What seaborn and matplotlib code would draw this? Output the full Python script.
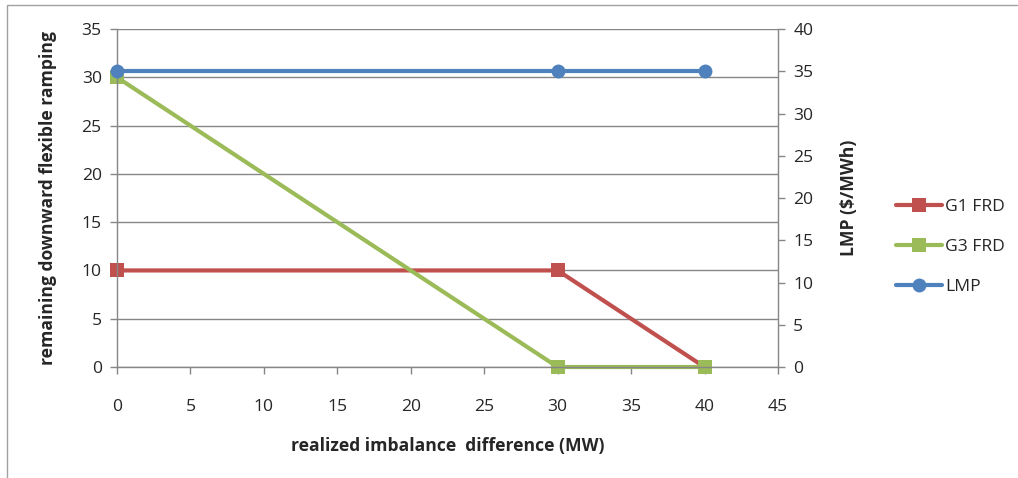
import matplotlib
matplotlib.use("Agg")
import matplotlib.pyplot as plt
import seaborn as sns
import pandas as pd
from matplotlib.patches import Rectangle

# data
imbalance = [0, 30, 40]
g1_frd = [10, 10, 0]
g3_frd = [30, 0, 0]
lmp = [35, 35, 35]

sns.set_style("white")
plt.rcParams['font.family'] = ['Open Sans', 'DejaVu Sans']

red = '#C0504D'
green = '#9BBB59'
blue = '#4F81BD'
grid_c = '#868686'
fs = 12.6

fig = plt.figure(figsize=(10.18, 4.78), dpi=100)
ax = fig.add_axes([0.1149, 0.2322, 0.6493, 0.7071])
ax2 = ax.twinx()

df = pd.DataFrame({'x': imbalance, 'G1 FRD': g1_frd, 'G3 FRD': g3_frd, 'LMP': lmp})

sns.lineplot(data=df, x='x', y='G1 FRD', ax=ax, color=red, lw=3, marker='s',
             markersize=10, markeredgewidth=0, label='G1 FRD', legend=False)
sns.lineplot(data=df, x='x', y='G3 FRD', ax=ax, color=green, lw=3, marker='s',
             markersize=10, markeredgewidth=0, label='G3 FRD', legend=False)
sns.lineplot(data=df, x='x', y='LMP', ax=ax2, color=blue, lw=3, marker='o',
             markersize=10, markeredgewidth=0, label='LMP', legend=False)
for l in ax.lines + ax2.lines:
    l.set_clip_on(False)

ax.set_xlim(0, 45)
ax.set_ylim(0, 35)
ax2.set_ylim(0, 40)
ax.set_xticks(range(0, 50, 5))
ax.set_yticks(range(0, 40, 5))
ax2.set_yticks(range(0, 45, 5))

ax.yaxis.grid(True, color=grid_c, lw=1)
ax.xaxis.grid(False)
ax2.grid(False)

for a in (ax, ax2):
    for s in a.spines.values():
        s.set_visible(False)
ax.spines['left'].set_visible(True)
ax.spines['bottom'].set_visible(True)
ax2.spines['right'].set_visible(True)
for s in (ax.spines['left'], ax.spines['bottom'], ax2.spines['right']):
    s.set_color(grid_c)
    s.set_linewidth(1)

ax.tick_params(axis='both', direction='out', length=5, width=1, color=grid_c,
               labelsize=fs, pad=6, left=True, bottom=True)
ax.tick_params(axis='x', pad=18)
ax2.tick_params(axis='y', direction='out', length=5, width=1, color=grid_c,
                labelsize=fs, pad=6, right=True)

ax.set_xlabel('realized imbalance  difference (MW)', fontsize=fs, fontweight='bold', labelpad=16)
ax.set_ylabel('remaining downward flexible ramping', fontsize=fs, fontweight='bold', labelpad=18)
ax2.set_ylabel('LMP ($/MWh)', fontsize=fs, fontweight='bold', labelpad=19)

handles = ax.lines[:2] + ax2.lines[:1]
fig.legend(handles, ['G1 FRD', 'G3 FRD', 'LMP'], loc='center left',
           bbox_to_anchor=(0.865, 0.484), frameon=False, fontsize=fs,
           handlelength=2.6, labelspacing=1.35, handletextpad=0.2)

fig.patches.append(Rectangle((7 / 1018, -0.01), 1.2, 1 - 5 / 478 + 0.01,
                             transform=fig.transFigure, fill=False,
                             edgecolor='#A0A0A0', lw=1))

fig.savefig('out.png', dpi=100)
